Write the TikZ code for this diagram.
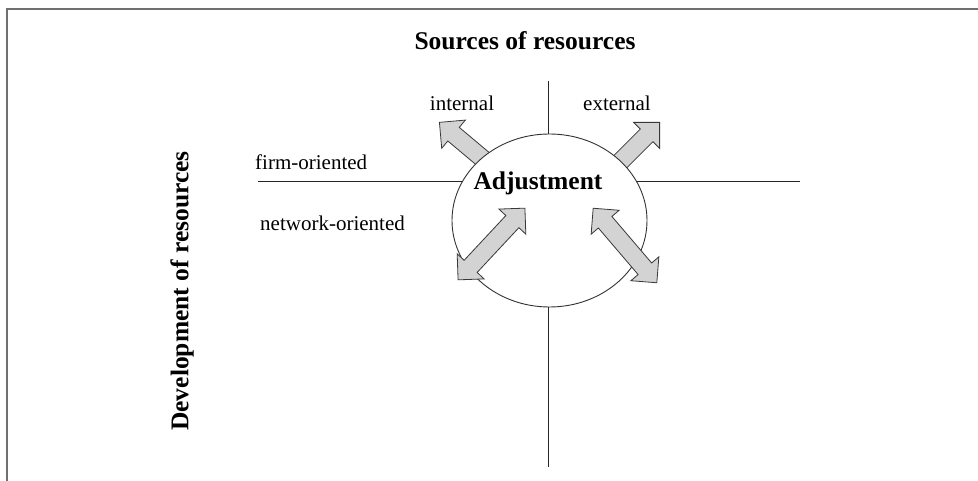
\documentclass[tikz,border=0pt]{standalone}
\usepackage{fontspec}
\setmainfont{Liberation Serif}
\usetikzlibrary{shapes.geometric, shapes.arrows, positioning}
\definecolor{FrameGray}{HTML}{707070}
\definecolor{ArrFill}{HTML}{D3D3D3}
\definecolor{ArrLine}{HTML}{383838}

\begin{document}
\begin{tikzpicture}[
    % 以像素为单位的坐标 (y 向下)
    x=1pt, y=-1pt,
    % 样式定义
    frameline/.style={line width=1.3pt, FrameGray},
    axis/.style={line width=1pt, black!85},
    boldtext/.style={font=\fontsize{25.5}{30}\selectfont\bfseries, inner sep=0pt},
    labeltext/.style={font=\fontsize{21}{25}\selectfont, inner sep=0pt},
    outarrow/.style={
        single arrow,
        single arrow head extend=9.5pt,
        single arrow tip angle=90,
        minimum width=36pt,
        minimum height=75pt,
        inner xsep=0pt, inner ysep=8.5pt,
        fill=ArrFill, draw=ArrLine, line width=0.8pt,
        anchor=tip
    },
    twoarrow/.style={
        double arrow,
        double arrow head extend=9.5pt,
        double arrow tip angle=90,
        minimum width=36pt,
        minimum height=98pt,
        inner xsep=0pt, inner ysep=8.5pt,
        fill=ArrFill, draw=ArrLine, line width=0.8pt
    }
]
    \useasboundingbox (0,0) rectangle (978,481);

    % ====== 1. 外框 ======
    \draw[frameline] (978,9) -- (7,9) -- (7,481);

    % ====== 2. 标题 ======
    \node[boldtext] (srcTitle) at (525,41) {Sources of resources};
    \node[boldtext, rotate=90] (devTitle) at (182,291) {Development of resources};

    % ====== 3. 坐标轴 ======
    \coordinate (vTop) at (548,81);
    \coordinate (vBot) at (548,467);
    \coordinate (hLeft) at (258,182);
    \coordinate (hRight) at (800,182);
    \draw[axis] (vTop) -- (vBot);
    \draw[axis] (hLeft) -- (hRight);

    % 象限标签
    \node[labeltext] (lInt) at (462,103) {internal};
    \node[labeltext] (lExt) at (617,103) {external};
    \node[labeltext, anchor=west] (lFirm) at (255,162) {firm-oriented};
    \node[labeltext, anchor=west] (lNet) at (260,223) {network-oriented};

    % ====== 4. 向外的箭头 (被圆遮住尾部) ======
    \node[outarrow, rotate=140] (aInt) at (439,122) {};
    \node[outarrow, rotate=45] (aExt) at (660,122) {};

    % ====== 5. 中心圆 ======
    \node[ellipse, draw=black!80, fill=white, line width=0.9pt,
          minimum width=195pt, minimum height=173pt, inner sep=0pt] (adj) at (549.5,220.5) {};

    % 双向箭头
    \node[twoarrow, rotate=47] (aNetL) at (491.5,244) {};
    \node[twoarrow, rotate=-49.5] (aNetR) at (625,245.5) {};

    \node[boldtext] (adjText) at (538,183) {Adjustment};

\end{tikzpicture}
\end{document}
